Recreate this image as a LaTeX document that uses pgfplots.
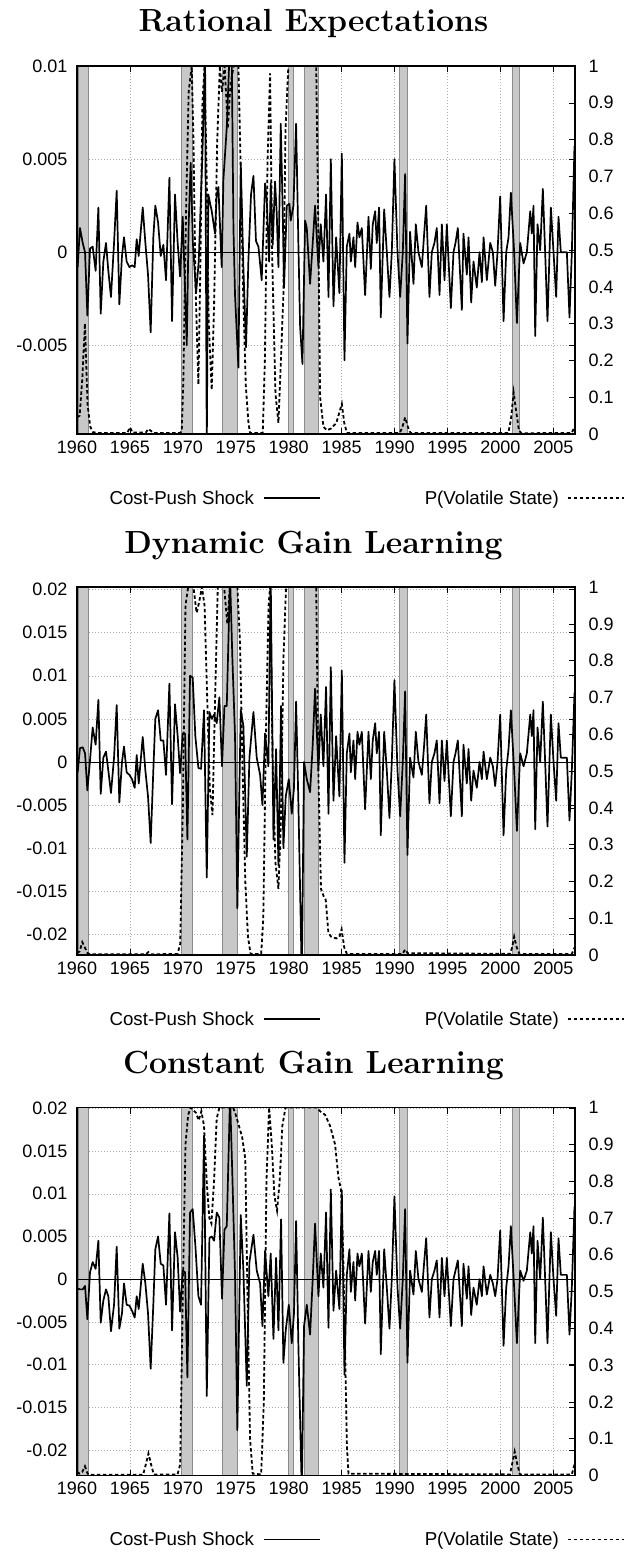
\documentclass[border=0pt]{standalone}
\usepackage{pgfplots}
\pgfplotsset{compat=1.18}
\usepackage{pgfplotstable}
\usepackage{fontspec}
\newfontfamily\lsans{Liberation Sans}
\definecolor{band}{HTML}{C8C8C8}
\definecolor{bandedge}{HTML}{8A8A8A}
\definecolor{gridc}{HTML}{ADADAD}

% Rational expectations: cost-push shock
\pgfplotstableread{
x y
1960.06 -0.0008
1960.28 0.0013
1960.54 0.0005
1960.76 0.0000
1960.98 -0.0034
1961.23 0.0002
1961.48 0.0003
1961.76 -0.0010
1962.02 0.0024
1962.24 -0.0033
1962.49 -0.0005
1962.74 0.0005
1962.96 -0.0010
1963.21 -0.0024
1963.50 0.0005
1963.75 0.0033
1964.00 -0.0028
1964.25 -0.0002
1964.44 0.0008
1964.69 -0.0005
1964.95 -0.0008
1965.20 -0.0007
1965.45 -0.0008
1965.64 0.0007
1965.83 -0.0002
1966.21 0.0024
1966.46 0.0005
1966.71 -0.0012
1966.96 -0.0043
1967.21 0.0008
1967.40 0.0025
1967.66 0.0016
1967.91 -0.0002
1968.16 0.0004
1968.41 -0.0015
1968.73 0.0040
1968.98 -0.0037
1969.26 0.0031
1969.51 0.0005
1969.74 -0.0013
1969.99 0.0019
1970.15 -0.0010
1970.37 -0.0050
1970.55 0.0015
1970.74 0.0048
1970.95 0.0005
1971.25 -0.0022
1971.50 -0.0005
1971.85 0.0053
1972.10 0.0105
1972.26 -0.0105
1972.41 0.0031
1972.73 0.0022
1973.04 0.0010
1973.20 0.0031
1973.36 0.0035
1973.67 -0.0008
1973.83 0.0039
1974.15 0.0067
1974.40 0.0105
1974.62 0.0105
1974.78 0.0013
1974.93 -0.0023
1975.25 -0.0062
1975.47 0.0048
1975.72 -0.0008
1975.97 -0.0051
1976.19 -0.0005
1976.44 0.0031
1976.67 0.0041
1976.91 0.0006
1977.14 0.0003
1977.45 -0.0015
1977.77 0.0037
1977.93 0.0028
1978.15 -0.0005
1978.30 0.0037
1978.49 0.0004
1978.71 0.0038
1978.87 0.0021
1979.03 -0.0008
1979.25 0.0069
1979.44 0.0021
1979.56 -0.0019
1979.82 0.0025
1980.07 0.0026
1980.19 0.0017
1980.45 0.0025
1980.70 0.0069
1980.92 0.0003
1981.08 -0.0040
1981.30 -0.0060
1981.55 0.0017
1981.71 0.0013
1982.02 -0.0017
1982.27 0.0005
1982.49 0.0025
1982.81 -0.0008
1983.03 0.0015
1983.28 -0.0005
1983.53 0.0031
1983.76 -0.0024
1983.98 0.0050
1984.23 -0.0029
1984.48 0.0008
1984.79 -0.0022
1985.02 0.0053
1985.27 -0.0058
1985.49 0.0003
1985.74 0.0010
1985.87 -0.0005
1986.12 0.0008
1986.28 -0.0008
1986.50 0.0016
1986.68 0.0008
1986.91 0.0013
1987.22 -0.0023
1987.54 0.0019
1987.76 -0.0009
1987.94 0.0015
1988.17 0.0022
1988.32 0.0005
1988.54 0.0024
1988.70 -0.0035
1989.02 0.0023
1989.27 0.0000
1989.52 -0.0024
1989.74 0.0000
1989.99 0.0050
1990.28 0.0000
1990.53 -0.0024
1990.78 0.0000
1991.00 0.0042
1991.22 -0.0049
1991.47 0.0011
1991.79 -0.0017
1992.01 0.0015
1992.26 0.0000
1992.58 -0.0008
1992.80 0.0010
1992.99 0.0025
1993.30 -0.0024
1993.52 0.0000
1993.77 0.0005
1993.99 0.0013
1994.25 -0.0023
1994.47 0.0015
1994.72 -0.0015
1994.94 0.0015
1995.32 -0.0030
1995.57 0.0000
1995.76 0.0005
1995.98 0.0013
1996.36 -0.0031
1996.51 0.0010
1996.83 -0.0012
1996.99 0.0008
1997.24 -0.0027
1997.46 -0.0005
1997.77 -0.0019
1998.03 0.0000
1998.25 -0.0016
1998.41 0.0008
1998.72 -0.0015
1999.04 0.0005
1999.29 0.0000
1999.51 -0.0018
1999.73 0.0000
1999.98 0.0030
2000.30 -0.0037
2000.55 0.0000
2000.77 0.0008
2000.99 0.0032
2001.30 0.0000
2001.56 -0.0038
2001.87 0.0005
2002.19 -0.0006
2002.50 0.0000
2002.82 0.0022
2002.97 0.0010
2003.13 0.0025
2003.29 -0.0045
2003.51 0.0015
2003.76 0.0001
2004.01 0.0034
2004.23 0.0000
2004.45 -0.0037
2004.77 0.0024
2005.02 0.0000
2005.27 -0.0024
2005.49 0.0019
2005.71 0.0000
2005.97 0.0000
2006.28 0.0000
2006.53 -0.0035
2006.75 0.0000
2007.00 0.0057
}\shre

% Dynamic gain (dg) and constant gain (cg): cost-push shock
\pgfplotstableread{
x dg cg
1960.06 -0.0012 -0.0011
1960.28 0.0016 -0.0012
1960.54 0.0017 -0.0012
1960.76 0.0010 -0.0008
1960.98 -0.0033 -0.0047
1961.23 0.0002 0.0008
1961.48 0.0040 0.0020
1961.76 0.0020 0.0012
1962.02 0.0072 0.0045
1962.24 -0.0037 -0.0051
1962.49 0.0005 -0.0025
1962.74 0.0012 -0.0012
1962.96 -0.0010 -0.0020
1963.21 -0.0036 -0.0061
1963.50 0.0005 -0.0030
1963.75 0.0066 0.0038
1964.00 -0.0047 -0.0058
1964.25 0.0000 -0.0040
1964.44 0.0018 -0.0005
1964.69 -0.0012 -0.0030
1964.95 -0.0015 -0.0031
1965.20 -0.0020 -0.0037
1965.45 -0.0030 -0.0045
1965.64 0.0008 -0.0020
1965.83 -0.0025 -0.0035
1966.21 0.0029 0.0018
1966.46 -0.0010 -0.0005
1966.71 -0.0040 -0.0040
1966.96 -0.0094 -0.0105
1967.21 -0.0010 -0.0030
1967.40 0.0050 0.0035
1967.66 0.0060 0.0050
1967.91 0.0025 0.0018
1968.16 0.0025 0.0016
1968.41 -0.0015 -0.0030
1968.73 0.0091 0.0077
1968.98 -0.0049 -0.0060
1969.26 0.0067 0.0055
1969.51 0.0030 0.0025
1969.74 -0.0013 -0.0038
1969.99 0.0033 0.0010
1970.21 0.0033 0.0008
1970.43 -0.0090 -0.0115
1970.68 0.0100 0.0078
1970.93 0.0098 0.0082
1971.18 0.0030 0.0040
1971.47 -0.0007 -0.0020
1971.72 -0.0008 -0.0030
1972.00 0.0060 0.0168
1972.26 -0.0134 -0.0137
1972.51 0.0058 0.0048
1972.73 0.0050 0.0050
1972.95 0.0055 0.0045
1973.20 0.0045 0.0078
1973.45 0.0075 0.0072
1973.70 -0.0005 -0.0023
1973.93 0.0065 0.0058
1974.15 0.0065 0.0062
1974.46 0.0215 0.0215
1974.68 0.0120 0.0120
1974.93 0.0030 0.0005
1975.15 -0.0170 -0.0177
1975.47 0.0060 0.0075
1975.72 0.0042 0.0010
1976.04 -0.0110 -0.0125
1976.29 0.0005 0.0020
1976.67 0.0058 0.0052
1976.98 0.0005 0.0010
1977.30 -0.0015 -0.0005
1977.52 -0.0050 -0.0055
1977.77 0.0033 0.0033
1978.08 -0.0005 -0.0020
1978.30 0.0215 0.0030
1978.56 -0.0090 -0.0070
1978.81 0.0015 0.0025
1979.03 -0.0120 -0.0060
1979.28 0.0065 0.0070
1979.50 -0.0100 -0.0098
1979.72 -0.0040 -0.0060
1980.01 -0.0020 -0.0030
1980.29 -0.0060 -0.0075
1980.50 -0.0030 -0.0040
1980.70 0.0070 0.0068
1980.92 -0.0050 -0.0080
1981.24 -0.0250 -0.0250
1981.45 0.0000 -0.0055
1981.71 -0.0020 -0.0030
1982.02 -0.0035 -0.0065
1982.27 0.0020 0.0000
1982.49 0.0085 0.0065
1982.81 -0.0010 -0.0020
1983.03 0.0055 0.0030
1983.28 -0.0005 -0.0010
1983.53 0.0087 0.0078
1983.76 -0.0060 -0.0057
1983.98 0.0110 0.0105
1984.23 -0.0045 -0.0037
1984.48 0.0030 0.0010
1984.79 -0.0040 -0.0035
1985.02 0.0106 0.0104
1985.27 -0.0117 -0.0112
1985.49 0.0010 0.0005
1985.74 0.0033 0.0035
1985.87 -0.0012 -0.0015
1986.12 0.0025 0.0020
1986.28 -0.0020 -0.0025
1986.50 0.0035 0.0030
1986.68 0.0020 0.0015
1986.91 0.0035 0.0030
1987.22 -0.0055 -0.0052
1987.54 0.0035 0.0033
1987.76 -0.0020 -0.0015
1987.94 0.0025 0.0020
1988.17 0.0045 0.0033
1988.32 0.0010 0.0005
1988.54 0.0035 0.0033
1988.70 -0.0085 -0.0088
1989.02 0.0035 0.0035
1989.27 -0.0010 -0.0010
1989.52 -0.0065 -0.0058
1989.74 0.0000 0.0000
1989.99 0.0095 0.0097
1990.28 -0.0010 -0.0010
1990.53 -0.0063 -0.0058
1990.78 0.0000 0.0000
1991.00 0.0082 0.0082
1991.22 -0.0108 -0.0098
1991.47 0.0005 0.0010
1991.79 -0.0018 -0.0018
1992.01 0.0035 0.0033
1992.26 0.0000 0.0000
1992.58 -0.0015 -0.0015
1992.80 0.0020 0.0020
1992.99 0.0055 0.0048
1993.30 -0.0048 -0.0045
1993.52 0.0000 0.0000
1993.77 0.0010 0.0010
1993.99 0.0025 0.0022
1994.25 -0.0048 -0.0045
1994.47 0.0025 0.0025
1994.72 -0.0022 -0.0020
1994.94 0.0025 0.0025
1995.32 -0.0063 -0.0055
1995.57 0.0000 0.0000
1995.76 0.0010 0.0010
1995.98 0.0025 0.0022
1996.36 -0.0063 -0.0055
1996.51 0.0020 0.0018
1996.83 -0.0025 -0.0023
1996.99 0.0015 0.0015
1997.24 -0.0045 -0.0042
1997.46 -0.0010 -0.0010
1997.77 -0.0030 -0.0030
1998.03 0.0000 0.0000
1998.25 -0.0020 -0.0020
1998.41 0.0012 0.0015
1998.72 -0.0020 -0.0018
1999.04 0.0005 0.0005
1999.29 -0.0005 -0.0005
1999.51 -0.0028 -0.0020
1999.73 0.0000 0.0000
1999.98 0.0055 0.0057
2000.30 -0.0085 -0.0078
2000.55 -0.0010 -0.0010
2000.77 0.0015 0.0015
2000.99 0.0060 0.0062
2001.30 -0.0010 -0.0010
2001.56 -0.0080 -0.0075
2001.87 0.0010 0.0010
2002.19 -0.0005 -0.0002
2002.50 0.0010 0.0010
2002.82 0.0055 0.0055
2002.97 0.0030 0.0030
2003.13 0.0060 0.0062
2003.29 -0.0078 -0.0075
2003.51 0.0040 0.0045
2003.76 0.0000 0.0000
2004.01 0.0070 0.0072
2004.23 0.0000 0.0000
2004.45 -0.0075 -0.0075
2004.77 0.0055 0.0055
2005.02 0.0000 0.0000
2005.27 -0.0045 -0.0043
2005.49 0.0045 0.0048
2005.71 0.0005 0.0005
2005.97 0.0005 0.0005
2006.28 0.0005 0.0005
2006.53 -0.0068 -0.0065
2006.75 -0.0010 -0.0010
2007.00 0.0080 0.0085
}\shocks

\pgfplotstableread{
x y
1960.00 0.045
1960.25 0.050
1960.50 0.150
1960.75 0.300
1961.00 0.080
1961.25 0.020
1961.50 0.005
1962.00 0.003
1964.75 0.003
1965.00 0.018
1965.25 0.004
1966.50 0.004
1966.75 0.014
1967.00 0.008
1967.25 0.003
1969.75 0.003
1969.90 0.010
1970.05 0.150
1970.30 0.600
1970.55 0.930
1970.84 1.000
1971.00 0.800
1971.20 0.400
1971.47 0.135
1971.65 0.450
1971.85 0.900
1972.05 1.000
1972.25 0.700
1972.45 0.300
1972.73 0.120
1972.95 0.350
1973.25 0.800
1973.50 1.000
1973.70 0.930
1973.95 1.000
1974.25 0.830
1974.50 0.950
1974.80 1.000
1975.25 1.000
1975.45 0.740
1975.70 0.380
1975.95 0.130
1976.20 0.030
1976.35 0.003
1977.55 0.003
1977.75 0.200
1978.00 0.740
1978.24 0.980
1978.45 0.470
1978.75 0.110
1979.03 0.030
1979.20 0.150
1979.50 0.380
1979.70 0.830
1979.97 1.000
1982.60 1.000
1982.80 0.560
1982.97 0.100
1983.28 0.020
1983.60 0.010
1984.00 0.015
1984.50 0.030
1984.80 0.060
1985.02 0.082
1985.25 0.030
1985.50 0.003
1990.50 0.003
1990.75 0.020
1991.00 0.045
1991.25 0.020
1991.50 0.003
2000.75 0.003
2001.00 0.040
2001.25 0.113
2001.50 0.060
2001.75 0.010
2002.00 0.002
2006.75 0.003
2007.00 0.020
}\pre

\pgfplotstableread{
x y
1960.00 0.005
1960.25 0.010
1960.50 0.035
1960.75 0.020
1961.00 0.005
1961.25 0.002
1966.50 0.002
1966.75 0.008
1967.00 0.002
1969.50 0.003
1969.75 0.030
1970.00 0.400
1970.25 0.950
1970.50 1.000
1971.00 1.000
1971.30 0.930
1971.55 0.960
1971.80 1.000
1972.05 0.950
1972.30 0.700
1972.55 0.450
1972.80 0.380
1973.05 0.700
1973.30 1.000
1973.90 1.000
1974.20 0.900
1974.45 1.000
1975.15 1.000
1975.40 0.850
1975.65 0.500
1975.90 0.200
1976.15 0.050
1976.40 0.003
1977.40 0.003
1977.60 0.100
1977.85 0.600
1978.10 0.950
1978.24 1.000
1978.50 0.500
1978.75 0.250
1979.03 0.180
1979.25 0.350
1979.50 0.800
1979.75 1.000
1982.60 1.000
1982.80 0.500
1983.05 0.180
1983.30 0.160
1983.50 0.150
1983.75 0.060
1984.00 0.050
1984.50 0.045
1984.80 0.050
1985.00 0.070
1985.25 0.020
1985.50 0.003
1990.75 0.003
1991.00 0.015
1991.25 0.005
2000.90 0.003
2001.10 0.020
2001.30 0.050
2001.55 0.020
2001.80 0.003
2006.75 0.003
2007.00 0.020
}\pdg

\pgfplotstableread{
x y
1960.00 0.010
1960.25 0.005
1960.50 0.010
1960.75 0.025
1961.00 0.005
1961.25 0.002
1966.25 0.002
1966.50 0.030
1966.75 0.060
1967.00 0.030
1967.25 0.003
1969.50 0.003
1969.75 0.030
1970.00 0.500
1970.25 0.900
1970.50 0.980
1970.75 1.000
1971.25 0.985
1971.50 0.965
1971.75 0.990
1972.00 0.950
1972.25 0.800
1972.50 0.700
1972.70 0.685
1972.95 0.800
1973.20 0.970
1973.45 1.000
1974.75 1.000
1975.00 0.980
1975.30 0.950
1975.60 0.920
1975.90 0.860
1976.10 0.500
1976.35 0.100
1976.60 0.005
1977.40 0.003
1977.65 0.200
1977.90 0.800
1978.15 1.000
1978.40 0.900
1978.65 0.760
1978.90 0.720
1979.15 0.800
1979.40 0.950
1979.70 1.000
1982.60 1.000
1982.97 0.990
1983.44 0.980
1983.91 0.950
1984.38 0.900
1984.70 0.810
1984.95 0.775
1985.15 0.600
1985.33 0.340
1985.50 0.080
1985.65 0.005
2000.90 0.003
2001.10 0.030
2001.35 0.065
2001.60 0.030
2001.85 0.003
2006.75 0.003
2007.00 0.030
}\pcg

\pgfplotsset{
  panel/.style={scale only axis, width=498pt, height=368pt,
    xmin=1960, xmax=2007.05, anchor=north west,
    tick align=inside, major tick length=6pt,
    tick style={black, line width=0.6pt},
    axis line style={black, line width=1.1pt},
    scaled y ticks=false, scaled x ticks=false,
    tick label style={font=\fontsize{18}{18}\selectfont\lsans}},
  leftp/.style={panel,
    xtick={1960,1965,1970,1975,1980,1985,1990,1995,2000,2005},
    xticklabels={1960,1965,1970,1975,1980,1985,1990,1995,2000,2005},
    xtick pos=both, xticklabel pos=lower, ytick pos=both, yticklabel pos=left,
    xmajorgrids, ymajorgrids,
    grid style={gridc, line width=0.5pt, dash pattern=on 1pt off 2pt},
    yticklabel style={xshift=-6pt}, xticklabel style={yshift=-3pt}},
  rightp/.style={panel, ymin=0, ymax=1, xtick=\empty,
    ytick={0,0.1,0.2,0.3,0.4,0.5,0.6,0.7,0.8,0.9,1},
    yticklabels={0,0.1,0.2,0.3,0.4,0.5,0.6,0.7,0.8,0.9,1},
    ytick pos=right, yticklabel pos=right, yticklabel style={xshift=10pt},
    legend style={at={(0.055,-0.174)}, anchor=west, draw=none, fill=none,
      font=\fontsize{18.7}{19}\selectfont\lsans, legend columns=2,
      /tikz/every even column/.append style={column sep=102pt}},
    legend plot pos=right,
    legend image code/.code={\draw[##1] (0pt,0pt) -- (56pt,0pt);}},
  shock/.style={black, line width=1.7pt, line join=round},
  prob/.style={black, line width=1.8pt, dash pattern=on 3.5pt off 2.5pt},
  rec/.style={fill=band, draw=bandedge, line width=0.8pt},
}

\newcommand\recessions{%
  \addplot[rec] coordinates {(1960.10,-0.03) (1960.10,0.03) (1961.05,0.03) (1961.05,-0.03)} -- cycle;
  \addplot[rec] coordinates {(1969.90,-0.03) (1969.90,0.03) (1970.93,0.03) (1970.93,-0.03)} -- cycle;
  \addplot[rec] coordinates {(1973.77,-0.03) (1973.77,0.03) (1975.15,0.03) (1975.15,-0.03)} -- cycle;
  \addplot[rec] coordinates {(1980.00,-0.03) (1980.00,0.03) (1980.45,0.03) (1980.45,-0.03)} -- cycle;
  \addplot[rec] coordinates {(1981.45,-0.03) (1981.45,0.03) (1982.80,0.03) (1982.80,-0.03)} -- cycle;
  \addplot[rec] coordinates {(1990.46,-0.03) (1990.46,0.03) (1991.20,0.03) (1991.20,-0.03)} -- cycle;
  \addplot[rec] coordinates {(2001.17,-0.03) (2001.17,0.03) (2001.80,0.03) (2001.80,-0.03)} -- cycle;
  \addplot[black, line width=0.9pt] coordinates {(1959,0) (2008,0)};
}

\begin{document}
\begin{tikzpicture}
% ---------- Panel 1 ----------
\node[font=\fontsize{32}{32}\selectfont\bfseries, anchor=base] at (313.5pt,-32pt) {Rational Expectations};
\begin{axis}[leftp, at={(77pt,-66pt)}, ymin=-0.00976, ymax=0.0100,
  ytick={-0.005,0,0.005,0.01}, yticklabels={-0.005,0,0.005,0.01}]
  \recessions
  \addplot[shock] table[x=x, y=y] {\shre};
\end{axis}
\begin{axis}[rightp, at={(77pt,-66pt)}]
  \addlegendimage{shock}
  \addlegendentry{Cost-Push Shock\rule{7pt}{0pt}}
  \addplot[prob] table[x=x, y=y] {\pre};
  \addlegendentry{P(Volatile State)\rule{6pt}{0pt}}
\end{axis}
% ---------- Panel 2 ----------
\node[font=\fontsize{32}{32}\selectfont\bfseries, anchor=base] at (313.5pt,-553pt) {Dynamic Gain Learning};
\begin{axis}[leftp, at={(77pt,-587pt)}, ymin=-0.0224, ymax=0.0203,
  ytick={-0.02,-0.015,-0.01,-0.005,0,0.005,0.01,0.015,0.02},
  yticklabels={-0.02,-0.015,-0.01,-0.005,0,0.005,0.01,0.015,0.02}]
  \recessions
  \addplot[shock] table[x=x, y=dg] {\shocks};
\end{axis}
\begin{axis}[rightp, at={(77pt,-587pt)}]
  \addlegendimage{shock}
  \addlegendentry{Cost-Push Shock\rule{7pt}{0pt}}
  \addplot[prob] table[x=x, y=y] {\pdg};
  \addlegendentry{P(Volatile State)\rule{6pt}{0pt}}
\end{axis}
% ---------- Panel 3 ----------
\node[font=\fontsize{32}{32}\selectfont\bfseries, anchor=base] at (313.5pt,-1073.5pt) {Constant Gain Learning};
\begin{axis}[leftp, at={(77pt,-1107.5pt)}, ymin=-0.0230, ymax=0.0201,
  ytick={-0.02,-0.015,-0.01,-0.005,0,0.005,0.01,0.015,0.02},
  yticklabels={-0.02,-0.015,-0.01,-0.005,0,0.005,0.01,0.015,0.02}]
  \recessions
  \addplot[shock] table[x=x, y=cg] {\shocks};
\end{axis}
\begin{axis}[rightp, at={(77pt,-1107.5pt)}]
  \addlegendimage{shock}
  \addlegendentry{Cost-Push Shock\rule{7pt}{0pt}}
  \addplot[prob] table[x=x, y=y] {\pcg};
  \addlegendentry{P(Volatile State)\rule{6pt}{0pt}}
\end{axis}
\pgfresetboundingbox
\path[use as bounding box] (0,0) rectangle (634pt,-1555pt);
\end{tikzpicture}
\end{document}
